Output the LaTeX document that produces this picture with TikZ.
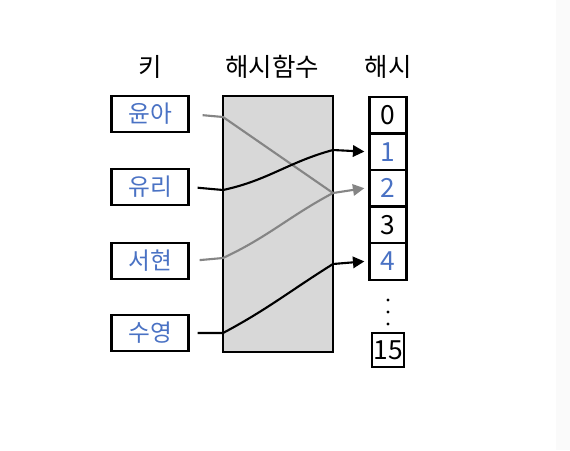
\documentclass[tikz,border=0pt]{standalone}
\usepackage{fontspec}
\setmainfont{Noto Sans CJK KR}
\usetikzlibrary{arrows.meta}

\definecolor{keyblue}{HTML}{4A72C4}
\definecolor{fngray}{HTML}{D8D8D8}
\definecolor{linegray}{HTML}{858585}

\tikzset{
  keybox/.style={draw,line width=1.3pt,minimum width=1.54cm,minimum height=0.72cm,
    inner sep=0pt,text=keyblue,font=\fontsize{13.5}{15}\selectfont},
  cellbox/.style={draw,line width=1.3pt,minimum width=0.74cm,minimum height=0.73cm,
    inner sep=0pt,font=\fontsize{15}{17}\selectfont},
  title/.style={font=\fontsize{14.5}{16}\selectfont},
  blackline/.style={line width=1.2pt},
  grayline/.style={line width=1.2pt,draw=linegray},
  tip/.style={-{Triangle[length=6.5pt,width=6.5pt]}}
}

\begin{document}
\begin{tikzpicture}[x=0.02cm,y=-0.02cm]

  % page
  \fill[white] (0,0) rectangle (570,450);
  \fill[black!2] (556,0) rectangle (570,450);

  % titles
  \node[title] (keytitle) at (150,67) {키};
  \node[title] (fntitle) at (272,67) {해시함수};
  \node[title] (hashtitle) at (388,67) {해시};

  % keys
  \node[keybox] (yuna) at (150,114) {윤아};
  \node[keybox] (yuri) at (150,187) {유리};
  \node[keybox] (seohyun) at (150,261) {서현};
  \node[keybox] (sooyoung) at (150,333) {수영};

  % hash function
  \node[draw,line width=1.3pt,fill=fngray,minimum width=2.2cm,minimum height=5.12cm]
    (hashfn) at (278,224) {};

  % hash table
  \foreach \i/\c in {0/black,1/keyblue,2/keyblue,3/black,4/keyblue}
  {
    \node[cellbox,text=\c] (h\i) at (388,115+36.6*\i) {\i};
  }
  \foreach \y in {300,312,324}
  {
    \fill (388,\y) circle (1.6);
  }
  \node[cellbox,minimum width=0.64cm,minimum height=0.68cm] (h15) at (388,350) {15};

  % connectors
  \coordinate (yunaIn) at (223,117);
  \coordinate (yuriIn) at (223,190);
  \coordinate (seohyunIn) at (223,258);
  \coordinate (sooyoungIn) at (223,333);
  \coordinate (outOne) at (333,150);
  \coordinate (outTwo) at (333,193);
  \coordinate (outFour) at (333,264);

  \draw[grayline,shorten <=0.26cm] (yuna.east) -- (yunaIn) -- (outTwo);
  \draw[grayline,shorten <=0.2cm] (seohyun.east) -- (seohyunIn)
    to[out=25,in=208] (outTwo);
  \draw[grayline,tip,draw=linegray,fill=linegray] (outTwo) -- ([xshift=-0.08cm]h2.west);

  \draw[blackline,shorten <=0.16cm] (yuri.east) -- (yuriIn)
    to[out=12,in=195] (outOne);
  \draw[blackline,tip] (outOne) -- ([xshift=-0.08cm]h1.west);

  \draw[blackline,shorten <=0.16cm] (sooyoung.east) -- (sooyoungIn)
    to[out=28,in=212] (outFour);
  \draw[blackline,tip] (outFour) -- ([xshift=-0.08cm]h4.west);

\end{tikzpicture}
\end{document}
